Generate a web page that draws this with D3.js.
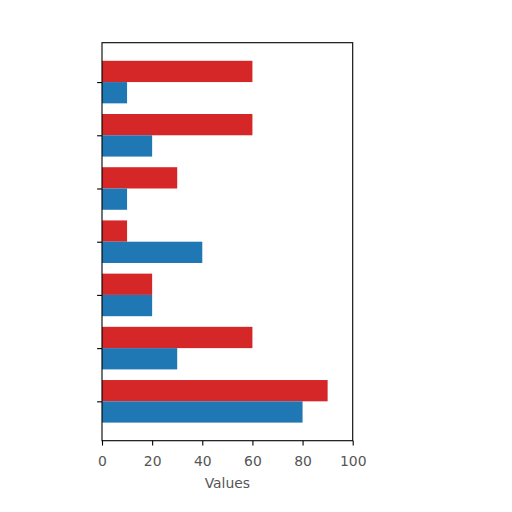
<!DOCTYPE html>
<html>
<head>
<meta charset="utf-8">
<script src="https://cdn.jsdelivr.net/npm/d3@7"></script>
<style>
  body { margin: 0; background: #fff; }
  text { font-family: "DejaVu Sans", sans-serif; }
</style>
</head>
<body>
<div id="graf"></div>
<script>
// Datos, de abajo hacia arriba (como en matplotlib)
const categorias = [0, 1, 2, 3, 4, 5, 6]
const valoresRojos = [90, 60, 20, 10, 30, 60, 60]
const valoresAzules = [80, 30, 20, 40, 10, 20, 10]
const ticksX = [0, 20, 40, 60, 80, 100]
const etiquetaX = 'Values'

// Tamaños
const ancho = 512
const alto = 512
const izq = 102, der = 352.7, arriba = 42.7, abajo = 440.7
const altoBarra = 0.4

const svg = d3.select('#graf')
    .append('svg')
    .attr('width', ancho)
    .attr('height', alto)

const xScale = d3.scaleLinear().domain([0, 100]).range([izq, der])
const yScale = d3.scaleLinear().domain([-0.74, 6.74]).range([abajo, arriba])

// barras rojas (arriba) y azules (abajo)
svg.append('g').selectAll('rect')
    .data(categorias)
    .enter()
    .append('rect')
    .attr('x', xScale(0))
    .attr('y', d => yScale(d + altoBarra))
    .attr('width', (d, i) => xScale(valoresRojos[i]) - xScale(0))
    .attr('height', yScale(0) - yScale(altoBarra))
    .attr('fill', '#d62728')

svg.append('g').selectAll('rect')
    .data(categorias)
    .enter()
    .append('rect')
    .attr('x', xScale(0))
    .attr('y', d => yScale(d))
    .attr('width', (d, i) => xScale(valoresAzules[i]) - xScale(0))
    .attr('height', yScale(0) - yScale(altoBarra))
    .attr('fill', '#1f77b4')

// Ejes
const xAxis = d3.axisBottom(xScale)
    .tickValues(ticksX)
    .tickSize(4.9)
    .tickPadding(11)
const gx = svg.append('g')
    .attr('transform', `translate(0, ${abajo})`)
    .call(xAxis)
gx.select('.domain').remove()
gx.selectAll('text').attr('font-size', 13.9).attr('fill', '#555')
gx.selectAll('line').attr('stroke', '#000').attr('stroke-width', 1.1)

const yAxis = d3.axisLeft(yScale)
    .tickValues(categorias)
    .tickSize(4.9)
    .tickFormat('')
const gy = svg.append('g')
    .attr('transform', `translate(${izq}, 0)`)
    .call(yAxis)
gy.select('.domain').remove()
gy.selectAll('line').attr('stroke', '#000').attr('stroke-width', 1.1)

// Marco
svg.append('rect')
    .attr('x', izq)
    .attr('y', arriba)
    .attr('width', der - izq)
    .attr('height', abajo - arriba)
    .attr('fill', 'none')
    .attr('stroke', '#000')
    .attr('stroke-width', 1.1)

svg.append('text')
    .attr('x', (izq + der) / 2)
    .attr('y', 488)
    .attr('text-anchor', 'middle')
    .attr('font-size', 13.9)
    .attr('fill', '#555')
    .text(etiquetaX)
</script>
</body>
</html>
